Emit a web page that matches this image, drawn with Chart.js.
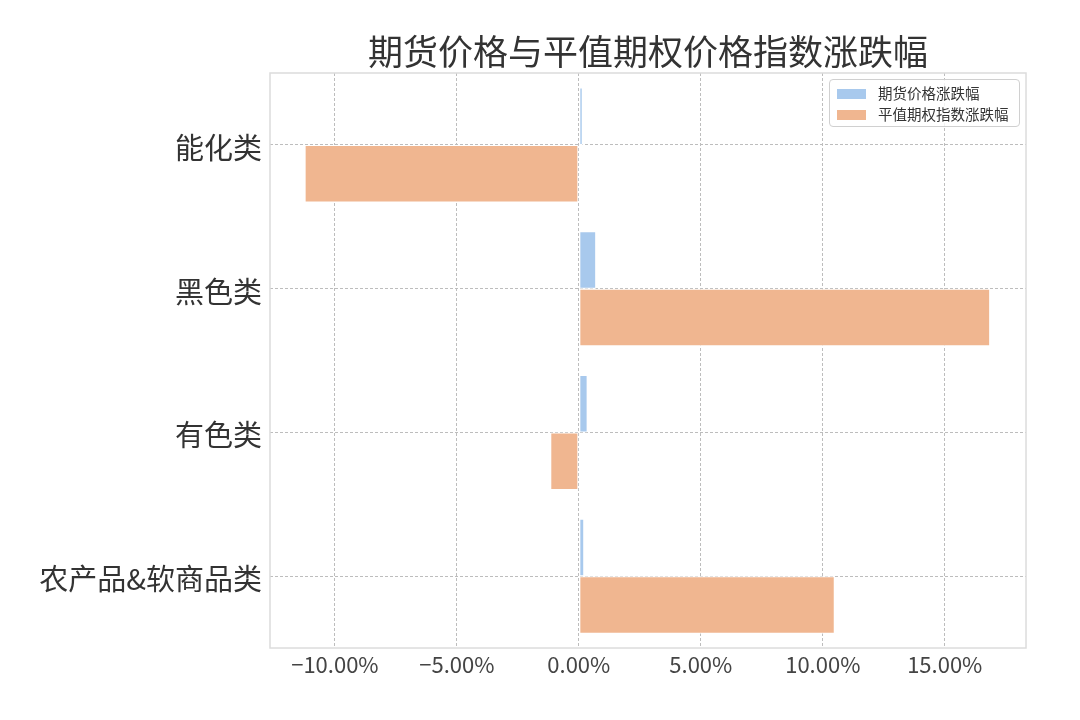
<!DOCTYPE html>
<html>
<head>
<meta charset="utf-8">
<script src="https://cdn.jsdelivr.net/npm/chart.js@4/dist/chart.umd.min.js"></script>
<style>
  body { margin: 0; background: #fff; }
  #wrap { position: relative; width: 1080px; height: 720px; }
  #legend {
    position: absolute; left: 829px; top: 79px; width: 189px; height: 46px;
    border: 1px solid #d0d0d0; border-radius: 4px; background: rgba(255,255,255,0.8);
    font-family: 'Noto Sans CJK SC', sans-serif; font-size: 14.5px; color: #333;
  }
  .item { position: absolute; left: 7px; height: 20px; line-height: 20px; white-space: nowrap; }
  .sw { display: inline-block; width: 29px; height: 10px; vertical-align: middle; margin-right: 12px; position: relative; top: -1px; }
</style>
</head>
<body>
<div id="wrap">
  <canvas id="c" width="1080" height="720"></canvas>
  <div id="legend"></div>
</div>
<script>
// --- data ---
const categories = ['能化类', '黑色类', '有色类', '农产品&软商品类'];
const futuresChange = [0.16, 0.71, 0.36, 0.22];
const optionIndexChange = [-11.24, 16.86, -1.17, 10.49];
const seriesNames = ['期货价格涨跌幅', '平值期权指数涨跌幅'];
const seriesColors = ['rgb(168,201,237)', 'rgb(240,182,144)'];
const xMin = -12.66, xMax = 18.33;

const font = "'Noto Sans CJK SC', sans-serif";

// light grey frame round the plot area
const frame = {
    id: 'frame',
    afterDraw(chart) {
        const a = chart.chartArea, ctx = chart.ctx;
        ctx.save();
        ctx.strokeStyle = '#dcdcdc';
        ctx.lineWidth = 1.5;
        ctx.strokeRect(a.left, a.top, a.right - a.left, a.bottom - a.top);
        ctx.restore();
    }
};

const fmt = v => (v < 0 ? '\u2212' : '') + Math.abs(v).toFixed(2) + '%';

new Chart(document.getElementById('c').getContext('2d'), {
    type: 'bar',
    data: {
        labels: categories,
        datasets: [
            { label: seriesNames[0], data: futuresChange, backgroundColor: seriesColors[0] },
            { label: seriesNames[1], data: optionIndexChange, backgroundColor: seriesColors[1] }
        ]
    },
    options: {
        responsive: false,
        animation: false,
        indexAxis: 'y',
        layout: { padding: { left: 0, right: 54, top: 0, bottom: 0 } },
        datasets: {
            bar: {
                categoryPercentage: 0.8, barPercentage: 1.0,
                borderColor: '#fff', borderWidth: 1, borderSkipped: false
            }
        },
        scales: {
            x: {
                min: xMin, max: xMax,
                afterFit: s => { s.height = 72; },
                grid: { color: '#bdbdbd', lineWidth: 1, drawTicks: false },
                border: { display: false, dash: [3, 2] },
                ticks: {
                    stepSize: 5, includeBounds: false, padding: 3,
                    color: '#444', font: { family: font, size: 22 },
                    callback: v => fmt(v)
                }
            },
            y: {
                afterFit: s => { s.width = 270; },
                grid: { color: '#bdbdbd', lineWidth: 1, drawTicks: false, offset: false },
                border: { display: false, dash: [3, 2] },
                ticks: { padding: 8, labelOffset: 3, color: '#333', font: { family: font, size: 29 } }
            }
        },
        plugins: {
            legend: { display: false },
            tooltip: { enabled: false },
            title: {
                display: true, fullSize: false,
                text: '期货价格与平值期权价格指数涨跌幅',
                color: '#333',
                font: { family: font, size: 35, weight: 'normal' },
                padding: { top: 31, bottom: 0 }
            }
        }
    },
    plugins: [frame]
});

// legend box inside the plot, upper right
const lg = document.getElementById('legend');
seriesNames.forEach((name, i) => {
    const d = document.createElement('div');
    d.className = 'item';
    d.style.top = (3 + i * 21) + 'px';
    d.innerHTML = '<span class="sw" style="background:' + seriesColors[i] + '"></span>' + name;
    lg.appendChild(d);
});
</script>
</body>
</html>
